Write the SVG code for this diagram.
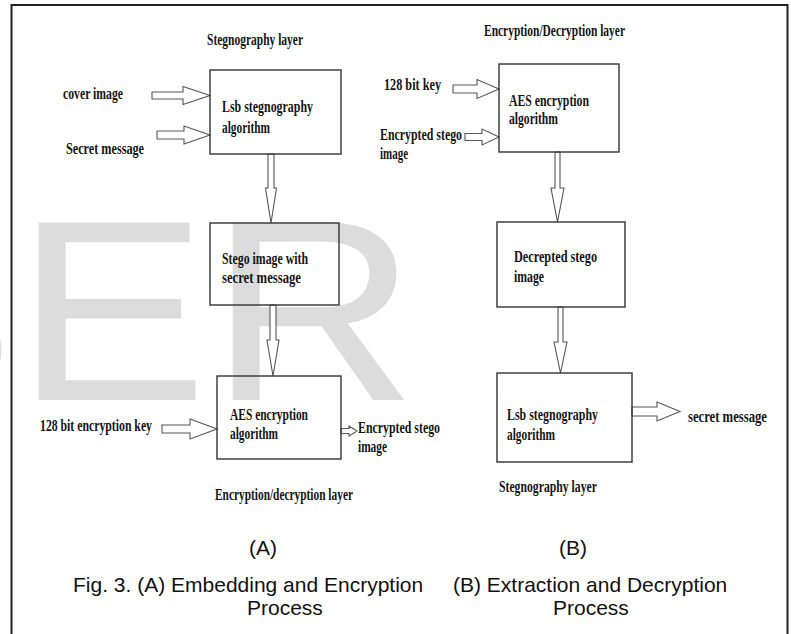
<svg xmlns="http://www.w3.org/2000/svg" width="791" height="634" viewBox="0 0 791 634">
  <style>
    .wm { font-family: "Liberation Sans", Arial, sans-serif; font-size: 258px; fill: #dcdcdc; }
    .lbl { font-family: "Liberation Serif", "Times New Roman", serif; font-weight: bold; font-size: 17px; fill: #141414; }
    .cap { font-family: "Liberation Sans", Arial, sans-serif; font-size: 21px; fill: #111; }
    .box { fill: none; stroke: #333; stroke-width: 1.4; }
    .arr { fill: #fff; stroke: #555; stroke-width: 1.1; stroke-linejoin: miter; }
    .frame { fill: none; stroke: #222; stroke-width: 2; }
  </style>

  <rect x="0" y="0" width="791" height="634" fill="#fff"/>

  <!-- background watermark letters, slightly widened -->
  <g id="watermark">
    <text class="wm" transform="matrix(1.12 0 0 1 -178 400)">S</text>
    <text class="wm" transform="matrix(1.12 0 0 1 15 400)">E</text>
    <text class="wm" transform="matrix(1.12 0 0 1 209 400)">R</text>
  </g>

  <!-- outer frame (open at the bottom) -->
  <path class="frame" d="M11.5,634 V5 H787.5 V634"/>

  <!-- connectors: hollow block arrows -->
  <g id="connectors">
    <polygon class="arr" points="152,92 183,92 183,86.5 210,95.5 183,104.5 183,99 152,99"/>
    <polygon class="arr" points="157,131 184,131 184,126 210,135 184,144 184,139 157,139"/>
    <polygon class="arr" points="268,154 274,154 274,188 276.5,188 271,223 265.5,188 268,188"/>
    <polygon class="arr" points="270,305 276,305 276,340 279,340 273,376 267,340 270,340"/>
    <polygon class="arr" points="162,425 190,425 190,419 217,429 190,439 190,433 162,433"/>
    <polygon class="arr" points="341,428.5 349,428.5 349,426 357,431 349,436 349,433.5 341,433.5"/>

    <polygon class="arr" points="453,85 477,85 477,79.5 499,89 477,98.5 477,93 453,93"/>
    <polygon class="arr" points="465,133.5 482,133.5 482,129 499,137 482,145 482,140.5 465,140.5"/>
    <polygon class="arr" points="555,152 560,152 560,188 564,188 557.5,222 551,188 555,188"/>
    <polygon class="arr" points="558,307 563,307 563,342 567,342 560.5,373 554,342 558,342"/>
    <polygon class="arr" points="632,407 657,407 657,402 680,411.5 657,421 657,416 632,416"/>
  </g>

  <!-- (A) embedding and encryption -->
  <text class="lbl" x="207" y="45" textLength="96" lengthAdjust="spacingAndGlyphs">Stegnography layer</text>
  <text class="lbl" x="63" y="99" textLength="60" lengthAdjust="spacingAndGlyphs">cover image</text>
  <text class="lbl" x="66" y="154" textLength="78" lengthAdjust="spacingAndGlyphs">Secret message</text>

  <g id="lsb-embed">
    <rect class="box" x="210" y="70" width="131" height="84"/>
    <text class="lbl" x="222" y="112" textLength="91" lengthAdjust="spacingAndGlyphs">Lsb stegnography</text>
    <text class="lbl" x="222" y="133" textLength="48" lengthAdjust="spacingAndGlyphs">algorithm</text>
  </g>

  <g id="stego-image">
    <rect class="box" x="210" y="223" width="129" height="82"/>
    <text class="lbl" x="222" y="264" textLength="86" lengthAdjust="spacingAndGlyphs">Stego image with</text>
    <text class="lbl" x="222" y="283" textLength="79" lengthAdjust="spacingAndGlyphs">secret message</text>
  </g>

  <g id="aes-encrypt">
    <rect class="box" x="217" y="376" width="124" height="83"/>
    <text class="lbl" x="230" y="420" textLength="78" lengthAdjust="spacingAndGlyphs">AES encryption</text>
    <text class="lbl" x="230" y="439" textLength="48" lengthAdjust="spacingAndGlyphs">algorithm</text>
  </g>

  <text class="lbl" x="40" y="431" textLength="112" lengthAdjust="spacingAndGlyphs">128 bit encryption key</text>
  <text class="lbl" x="358" y="433" textLength="82" lengthAdjust="spacingAndGlyphs">Encrypted stego</text>
  <text class="lbl" x="358" y="452" textLength="29" lengthAdjust="spacingAndGlyphs">image</text>
  <text class="lbl" x="215" y="500" textLength="138" lengthAdjust="spacingAndGlyphs">Encryption/decryption layer</text>

  <!-- (B) extraction and decryption -->
  <text class="lbl" x="484" y="36" textLength="141" lengthAdjust="spacingAndGlyphs">Encryption/Decryption layer</text>
  <text class="lbl" x="384" y="90" textLength="57" lengthAdjust="spacingAndGlyphs">128 bit key</text>
  <text class="lbl" x="380" y="140" textLength="82" lengthAdjust="spacingAndGlyphs">Encrypted stego</text>
  <text class="lbl" x="380" y="159" textLength="28" lengthAdjust="spacingAndGlyphs">image</text>

  <g id="aes-decrypt">
    <rect class="box" x="499" y="64" width="120" height="88"/>
    <text class="lbl" x="509" y="106" textLength="80" lengthAdjust="spacingAndGlyphs">AES encryption</text>
    <text class="lbl" x="509" y="124" textLength="49" lengthAdjust="spacingAndGlyphs">algorithm</text>
  </g>

  <g id="decrypted-image">
    <rect class="box" x="497" y="222" width="128" height="85"/>
    <text class="lbl" x="514" y="262" textLength="83" lengthAdjust="spacingAndGlyphs">Decrepted stego</text>
    <text class="lbl" x="514" y="282" textLength="30" lengthAdjust="spacingAndGlyphs">image</text>
  </g>

  <g id="lsb-extract">
    <rect class="box" x="497" y="373" width="135" height="89"/>
    <text class="lbl" x="507" y="420" textLength="91" lengthAdjust="spacingAndGlyphs">Lsb stegnography</text>
    <text class="lbl" x="507" y="440" textLength="48" lengthAdjust="spacingAndGlyphs">algorithm</text>
  </g>

  <text class="lbl" x="688" y="422" textLength="79" lengthAdjust="spacingAndGlyphs">secret message</text>
  <text class="lbl" x="499" y="492" textLength="98" lengthAdjust="spacingAndGlyphs">Stegnography layer</text>

  <!-- captions -->
  <text class="cap" x="249" y="555">(A)</text>
  <text class="cap" x="559" y="555">(B)</text>
  <text class="cap" x="73" y="592">Fig. 3. (A) Embedding and Encryption</text>
  <text class="cap" x="453" y="592">(B) Extraction and Decryption</text>
  <text class="cap" x="247" y="615">Process</text>
  <text class="cap" x="553" y="615">Process</text>
</svg>
